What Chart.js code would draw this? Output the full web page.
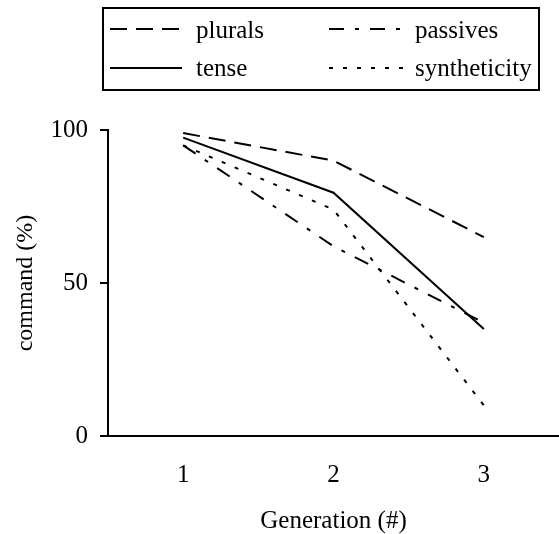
<!DOCTYPE html>
<html>
<head>
<meta charset="utf-8">
<script src="https://cdn.jsdelivr.net/npm/chart.js@4/dist/chart.umd.min.js"></script>
<style>
  html, body { margin: 0; padding: 0; background: #fff; }
  #wrap { width: 559px; height: 534px; position: relative; }
</style>
</head>
<body>
<div id="wrap"><canvas id="c"></canvas></div>
<script>
const categories = ['1', '2', '3'];
const seriesNames = ['plurals', 'passives', 'tense', 'syntheticity'];
const plurals = [99, 90, 65];
const passives = [95, 62, 37];
const tense = [97.5, 79.5, 35];
const syntheticity = [95, 74, 10];
const yTicks = [0, 50, 100];

const FONT = 'Liberation Serif, Times New Roman, serif';
const dashes = [[17, 9], [15, 11, 4, 11], [], [4, 10]];
const values = [plurals, passives, tense, syntheticity];

const datasets = seriesNames.map((n, i) => ({
  label: n,
  data: values[i],
  borderColor: '#000',
  backgroundColor: '#000',
  borderWidth: 2,
  borderDash: dashes[i],
  pointRadius: 0,
  tension: 0,
  fill: false
}));

const legendPlugin = {
  id: 'boxLegend',
  afterDraw(chart) {
    const ctx = chart.ctx;
    ctx.save();
    ctx.strokeStyle = '#000';
    ctx.lineWidth = 2;
    ctx.setLineDash([]);
    ctx.strokeRect(103, 8, 436, 82);
    const lineX = [[110, 182], [329, 405]];
    const textX = [196, 415];
    const lineY = [29, 68];
    const baseY = [38, 76];
    ctx.font = '25px ' + FONT;
    ctx.fillStyle = '#000';
    ctx.textBaseline = 'alphabetic';
    ctx.textAlign = 'left';
    chart.data.datasets.forEach((ds, i) => {
      const col = i % 2, row = Math.floor(i / 2);
      ctx.beginPath();
      ctx.setLineDash(ds.borderDash || []);
      ctx.lineWidth = 2;
      ctx.moveTo(lineX[col][0], lineY[row]);
      ctx.lineTo(lineX[col][1], lineY[row]);
      ctx.stroke();
      ctx.setLineDash([]);
      ctx.fillText(ds.label, textX[col], baseY[row]);
    });
    ctx.restore();
  }
};

new Chart(document.getElementById('c'), {
  type: 'line',
  data: { labels: categories, datasets },
  options: {
    responsive: true,
    maintainAspectRatio: false,
    animation: false,
    layout: { padding: { top: 130, left: 0, right: 0, bottom: 0 } },
    plugins: { legend: { display: false }, tooltip: { enabled: false } },
    scales: {
      x: {
        offset: true,
        grid: { display: false, drawTicks: false },
        border: { display: true, color: '#000', width: 2 },
        ticks: { color: '#000', padding: 24, font: { family: FONT, size: 25 } },
        title: {
          display: true, text: 'Generation (#)', color: '#000',
          font: { family: FONT, size: 25, lineHeight: 1 },
          padding: { top: 19, bottom: 0 }
        },
        afterFit(s) { s.height = 98; }
      },
      y: {
        min: 0, max: 100,
        afterBuildTicks(s) { s.ticks = yTicks.map(v => ({ value: v })); },
        grid: { drawOnChartArea: false, drawTicks: true, tickLength: 8, color: '#000', lineWidth: 2 },
        border: { display: true, color: '#000', width: 2 },
        ticks: { color: '#000', padding: 12, font: { family: FONT, size: 25 } },
        title: {
          display: true, text: 'command (%)', color: '#000',
          font: { family: FONT, size: 24, lineHeight: 1 },
          padding: { top: 14, bottom: 0 }
        },
        afterFit(s) { s.width = 108; }
      }
    }
  },
  plugins: [legendPlugin]
});
</script>
</body>
</html>
